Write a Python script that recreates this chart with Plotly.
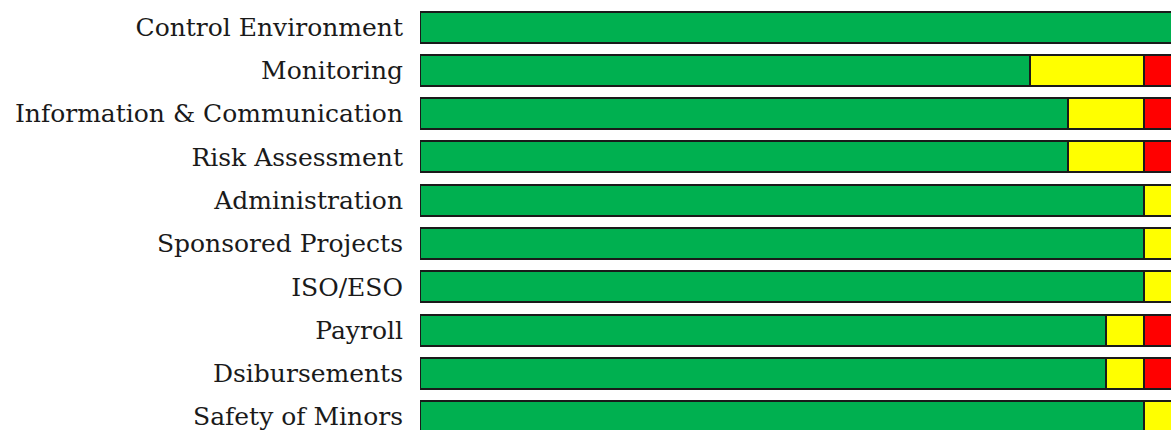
import plotly.graph_objects as go

categories = ["Control Environment", "Monitoring", "Information & Communication",
              "Risk Assessment", "Administration", "Sponsored Projects", "ISO/ESO",
              "Payroll", "Dsibursements", "Safety of Minors"]
green = [20, 16, 17, 17, 19, 19, 19, 18, 18, 19]
yellow = [0, 3, 2, 2, 1, 1, 1, 1, 1, 1]
red = [0, 1, 1, 1, 0, 0, 0, 1, 1, 0]

fig = go.Figure()
for name, vals, col in [("Green", green, "#00B050"), ("Yellow", yellow, "#FFFF00"), ("Red", red, "#FF0000")]:
    fig.add_trace(go.Bar(
        y=categories, x=vals, orientation="h", name=name,
        marker=dict(color=col, line=dict(color="#1a1a1a", width=2)),
        width=0.716, showlegend=False, hoverinfo="x+y",
    ))

fig.update_layout(
    barmode="stack",
    width=1171, height=430,
    margin=dict(l=420, r=0, t=0, b=0, autoexpand=False),
    paper_bgcolor="white", plot_bgcolor="white",
    font=dict(family="DejaVu Serif", size=25, color="#1a1a1a"),
    xaxis=dict(range=[0, 19.71], visible=False, showgrid=False, zeroline=False),
    yaxis=dict(range=[9.307, -0.624], showgrid=False, zeroline=False, ticks="",
               ticklabelstandoff=16, showline=False),
)
fig.write_html(
    "out.html",
    config={"displayModeBar": False},
    post_script="document.body.style.margin='0';document.documentElement.style.overflow='hidden';",
)
